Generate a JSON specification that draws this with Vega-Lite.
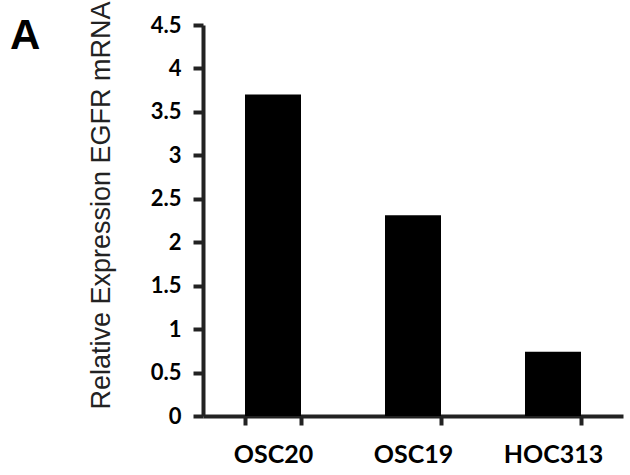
{
  "$schema": "https://vega.github.io/schema/vega-lite/v6.json",
  "autosize": {"type": "none"},
  "padding": {"left": 203, "top": 25, "right": 7, "bottom": 59},
  "width": 420,
  "height": 391,
  "background": "white",
  "title": {"text": "A", "anchor": "start", "frame": "group", "dx": -193, "dy": 90, "baseline": "alphabetic", "fontSize": 42, "font": "Liberation Sans", "fontWeight": "bold", "color": "black", "offset": 0},
  "data": {"values": [
    {"line": "OSC20", "value": 3.7},
    {"line": "OSC19", "value": 2.31},
    {"line": "HOC313", "value": 0.74}
  ]},
  "mark": {"type": "bar", "color": "black"},
  "encoding": {
    "x": {"field": "line", "type": "nominal", "sort": null,
      "scale": {"paddingInner": 0.6, "paddingOuter": 0.3},
      "axis": {"title": null, "labelAngle": 0, "labelFont": "Lato", "labelFontWeight": "bold", "labelFontSize": 25, "labelColor": "black", "labelPadding": 17, "tickBand": "extent", "tickSize": 9, "tickWidth": 4, "tickColor": "#222", "domainColor": "#222", "domainWidth": 4, "grid": false}},
    "y": {"field": "value", "type": "quantitative",
      "scale": {"domain": [0, 4.5], "nice": false},
      "axis": {"title": "Relative Expression EGFR mRNA", "titleFont": "Liberation Sans", "titleFontWeight": "normal", "titleFontSize": 27, "titleColor": "#222", "titleX": -94, "titleY": 180, "titleAngle": -90, "titleAlign": "center", "titleBaseline": "alphabetic",
        "values": [0, 0.5, 1, 1.5, 2, 2.5, 3, 3.5, 4, 4.5], "format": "~g", "labelFont": "Lato", "labelFontWeight": "bold", "labelFontSize": 22, "labelColor": "black", "labelPadding": 12, "tickSize": 10, "tickWidth": 4, "tickColor": "#222", "domainColor": "#222", "domainWidth": 4, "grid": false}}
  },
  "config": {"view": {"stroke": null}}
}
